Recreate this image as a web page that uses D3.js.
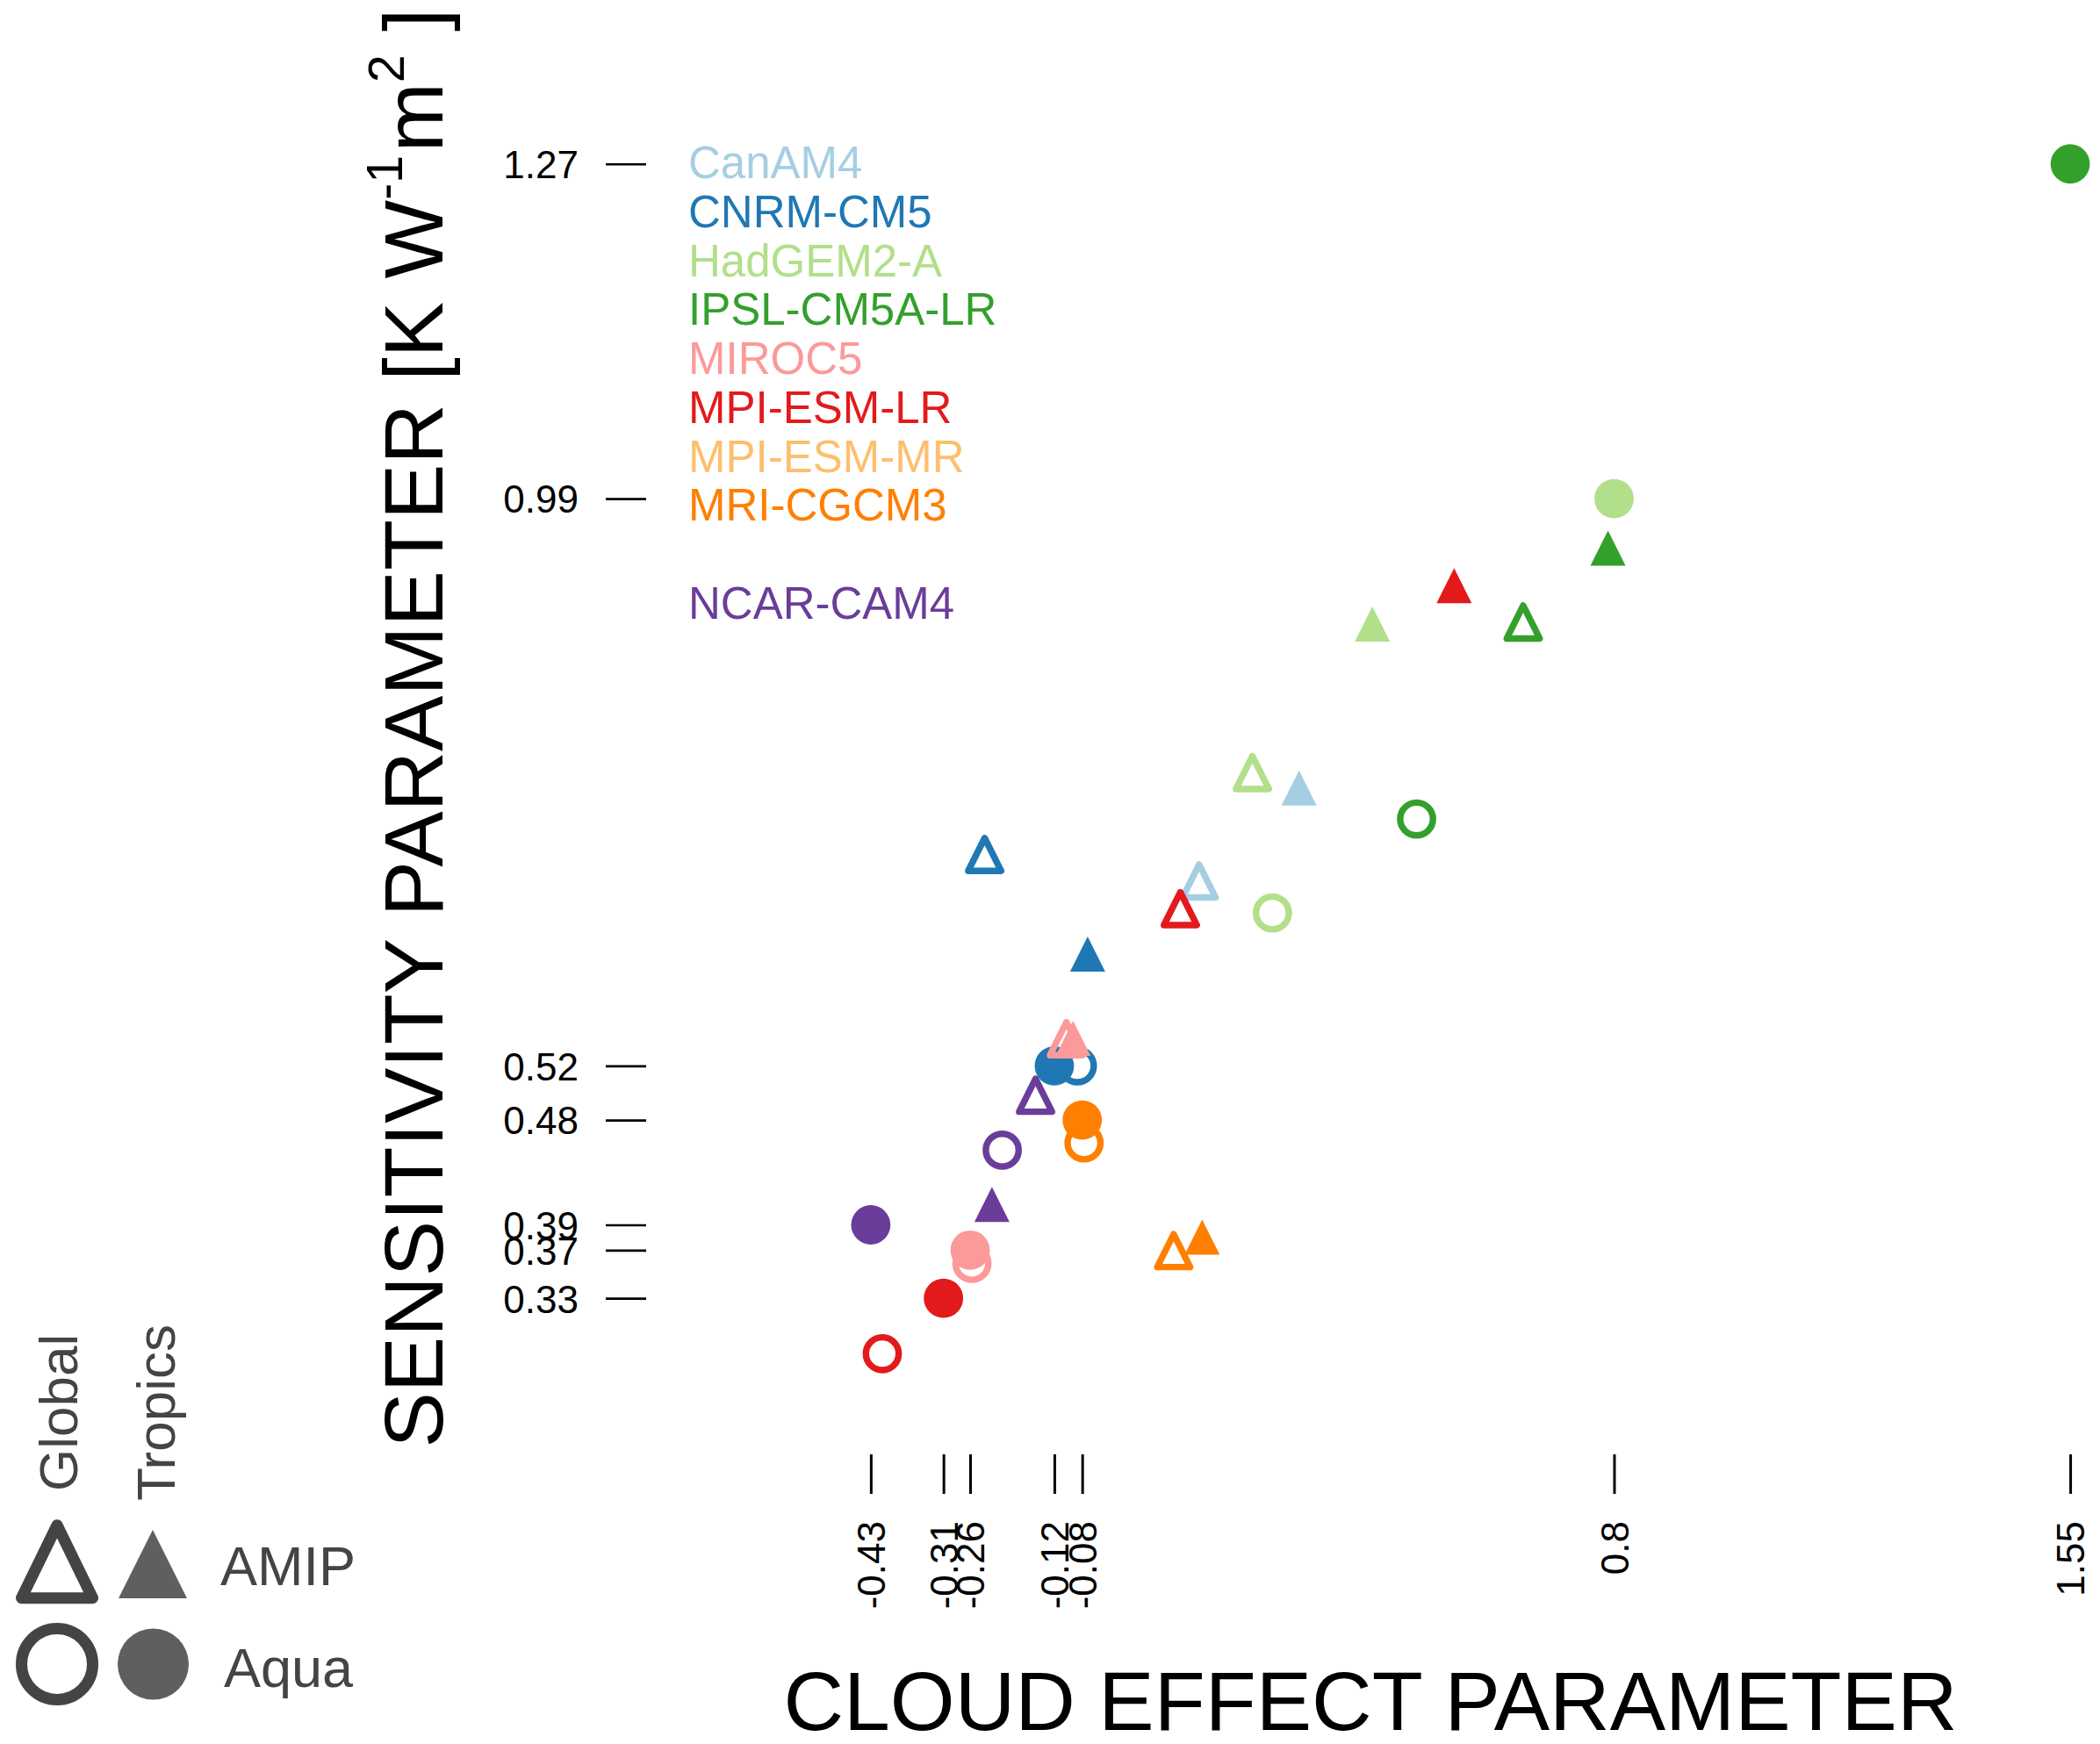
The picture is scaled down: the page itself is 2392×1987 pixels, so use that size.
<!DOCTYPE html>
<html>
<head>
<meta charset="utf-8">
<script src="https://cdn.jsdelivr.net/npm/d3@7"></script>
<style>
  html, body { margin: 0; padding: 0; background: #fff; }
  svg text { font-family: "Liberation Sans", Arial, Helvetica, sans-serif; }
</style>
</head>
<body>
<div id="chart"></div>
<script>
// models in legend order, the empty name keeps its blank row in the legend
const models = ["CanAM4", "CNRM-CM5", "HadGEM2-A", "IPSL-CM5A-LR", "MIROC5",
  "MPI-ESM-LR", "MPI-ESM-MR", "MRI-CGCM3", "", "NCAR-CAM4"];
const modelColors = d3.schemePaired.slice(0, 10);

// cloud effect (x) and sensitivity (y) per model, null = no run
const amipGlobalX   = [0.116, -0.238, 0.204, 0.651, -0.103, 0.085, null, 0.074, null, -0.154];
const amipGlobalY   = [0.671, 0.693, 0.761, 0.886, 0.540, 0.648, null, 0.364, null, 0.493];
const amipTropicsX  = [0.281, -0.068, 0.402, 0.791, -0.092, 0.537, null, 0.121, null, -0.226];
const amipTropicsY  = [0.748, 0.610, 0.884, 0.947, 0.540, 0.916, null, 0.375, null, 0.402];
const aquaGlobalX   = [null, -0.085, 0.237, 0.475, -0.259, -0.407, null, -0.074, null, -0.209];
const aquaGlobalY   = [null, 0.522, 0.649, 0.727, 0.358, 0.283, null, 0.458, null, 0.452];
const aquaTropicsX  = [null, -0.123, 0.801, 1.554, -0.262, -0.306, null, -0.077, null, -0.426];
const aquaTropicsY  = [null, 0.522, 0.993, 1.271, 0.369, 0.329, null, 0.477, null, 0.390];

// axis ticks sit on the aqua tropics points
const xTickValues = aquaTropicsX.filter(d => d != null);
const yTickValues = aquaTropicsY.filter(d => d != null);

const shapeLegend = ["Global", "Tropics"];
const runLegend = ["AMIP", "Aqua"];

const width = 2392;
const height = 1987;

let svg = d3.select("#chart")
  .append("svg")
  .attr("width", width)
  .attr("height", height);

svg.append("rect")
  .attr("width", width)
  .attr("height", height)
  .attr("fill", "#fff");

let x = d3.scaleLinear().domain([-0.43, 1.55]).range([989.1, 2355.3]);
let y = d3.scaleLinear().domain([0.33, 1.27]).range([1477.8, 188.1]);

// R prints round(v, 2) without trailing zeros
let fmt = d => String(Math.round(d * 100) / 100);

/**
 * triangle path with its centroid at 0,0
 */
function triangle(w, h) {
  return "M0," + (-2 * h / 3) + "L" + (w / 2) + "," + (h / 3) + "L" + (-w / 2) + "," + (h / 3) + "Z";
}

// ---- axes (ticks only, no axis line)
let yAxis = svg.append("g")
  .attr("transform", "translate(736,0)")
  .call(d3.axisLeft(y).tickValues(yTickValues).tickFormat(fmt).tickSize(46).tickPadding(31));
yAxis.select(".domain").remove();
yAxis.selectAll("line").attr("stroke", "#000").attr("stroke-width", 2.7);
yAxis.selectAll("text")
  .attr("fill", "#000")
  .attr("dy", "0.36em")
  .style("font-size", "44px");

let xAxis = svg.append("g")
  .attr("transform", "translate(0,1657)")
  .call(d3.axisBottom(x).tickValues(xTickValues).tickFormat(fmt).tickSize(45));
xAxis.select(".domain").remove();
xAxis.selectAll("line").attr("stroke", "#000").attr("stroke-width", 3);
xAxis.selectAll("text")
  .attr("fill", "#000")
  .attr("x", 0)
  .attr("y", 0)
  .attr("dy", "0.36em")
  .attr("text-anchor", "end")
  .attr("transform", "translate(0,76) rotate(-90)")
  .style("font-size", "44px");

// ---- axis titles
let yTitle = svg.append("text")
  .attr("transform", "translate(504,829.5) rotate(-90)")
  .attr("text-anchor", "middle")
  .attr("fill", "#000")
  .style("font-size", "95px");
yTitle.append("tspan").text("SENSITIVITY PARAMETER [K W");
yTitle.append("tspan").attr("dy", -46).style("font-size", "57px").text("-1");
yTitle.append("tspan").attr("dy", 46).attr("dx", 4).text("m");
yTitle.append("tspan").attr("dy", -44).style("font-size", "57px").text("2");
yTitle.append("tspan").attr("dy", 44).text(" ]");

svg.append("text")
  .attr("x", 1561)
  .attr("y", 1971)
  .attr("text-anchor", "middle")
  .attr("fill", "#000")
  .style("font-size", "95px")
  .text("CLOUD EFFECT PARAMETER");

// ---- model legend
svg.append("g")
  .selectAll("text")
  .data(models)
  .enter()
  .append("text")
  .attr("x", 784)
  .attr("y", (d, i) => 203.3 + i * 55.7)
  .attr("fill", (d, i) => modelColors[i])
  .style("font-size", "51px")
  .text(d => d);

// ---- points, drawn model by model like the original loop
let series = [
  {xs: amipGlobalX, ys: amipGlobalY, shape: "triangle", filled: false},
  {xs: amipTropicsX, ys: amipTropicsY, shape: "triangle", filled: true},
  {xs: aquaGlobalX, ys: aquaGlobalY, shape: "circle", filled: false},
  {xs: aquaTropicsX, ys: aquaTropicsY, shape: "circle", filled: true}
];

let points = [];
models.forEach(function(m, i) {
  series.forEach(function(s) {
    if (s.xs[i] != null) {
      points.push({x: s.xs[i], y: s.ys[i], shape: s.shape, filled: s.filled, color: modelColors[i]});
    }
  });
});

let marks = svg.append("g")
  .selectAll("path")
  .data(points)
  .enter()
  .append("path")
  .attr("transform", d => "translate(" + x(d.x) + "," + y(d.y) + ")")
  .attr("d", function(d) {
    if (d.shape === "triangle") {
      return d.filled ? triangle(40, 40) : triangle(37.5, 37.5);
    }
    let r = d.filled ? 22.4 : 18.7;
    return d3.arc()({innerRadius: 0, outerRadius: r, startAngle: 0, endAngle: 2 * Math.PI});
  })
  .attr("fill", d => d.filled ? d.color : "none")
  .attr("stroke", d => d.filled ? "none" : d.color)
  .attr("stroke-width", 7.4)
  .attr("stroke-linejoin", "round");

// ---- shape legend (bottom left)
let legend = svg.append("g");

legend.append("text")
  .attr("transform", "translate(88,1699) rotate(-90)")
  .attr("fill", "#444")
  .style("font-size", "62px")
  .text(shapeLegend[0]);
legend.append("text")
  .attr("transform", "translate(199,1710) rotate(-90)")
  .attr("fill", "#444")
  .style("font-size", "62px")
  .text(shapeLegend[1]);

legend.append("path")
  .attr("transform", "translate(65,1793)")
  .attr("d", triangle(81, 83))
  .attr("fill", "none")
  .attr("stroke", "#444")
  .attr("stroke-width", 13)
  .attr("stroke-linejoin", "round");
legend.append("path")
  .attr("transform", "translate(174,1795)")
  .attr("d", triangle(78, 78))
  .attr("fill", "#5f5f5f");
legend.append("circle")
  .attr("cx", 65)
  .attr("cy", 1896)
  .attr("r", 40.5)
  .attr("fill", "none")
  .attr("stroke", "#444")
  .attr("stroke-width", 13);
legend.append("circle")
  .attr("cx", 174.5)
  .attr("cy", 1896)
  .attr("r", 40.5)
  .attr("fill", "#5f5f5f");

legend.append("text")
  .attr("x", 251)
  .attr("y", 1806)
  .attr("fill", "#444")
  .style("font-size", "63px")
  .text(runLegend[0]);
legend.append("text")
  .attr("x", 255)
  .attr("y", 1922)
  .attr("fill", "#444")
  .style("font-size", "63px")
  .text(runLegend[1]);
</script>
</body>
</html>
